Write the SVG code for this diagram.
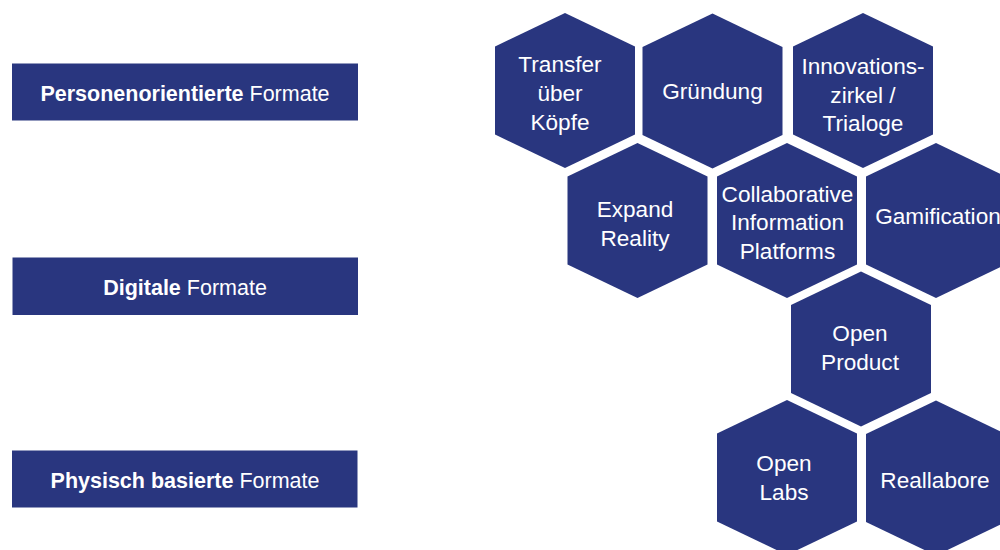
<svg xmlns="http://www.w3.org/2000/svg" xmlns:xlink="http://www.w3.org/1999/xlink" width="1000" height="550" viewBox="0 0 1000 550">
<style>
  .fill { fill: #29367f; }
  .ht { font-family: "Liberation Sans", Arial, sans-serif; font-size: 22.6px; fill: #ffffff; text-anchor: middle; }
  .rt { font-family: "Liberation Sans", Arial, sans-serif; font-size: 21.5px; fill: #ffffff; text-anchor: middle; }
  .b { font-weight: bold; }
</style>
<defs>
  <polygon id="hex" points="0,-77.5 70,-44 70,44 0,77.5 -70,44 -70,-44"/>
</defs>
<rect width="1000" height="550" fill="#ffffff"/>

<g id="cat-personen">
  <rect class="fill" x="12" y="63.5" width="346" height="57"/>
  <text class="rt" x="185" y="100.5"><tspan class="b">Personenorientierte</tspan> Formate</text>
</g>
<g id="cat-digital">
  <rect class="fill" x="12.5" y="257.5" width="345.5" height="57.5"/>
  <text class="rt" x="185" y="295"><tspan class="b">Digitale</tspan> Formate</text>
</g>
<g id="cat-physisch">
  <rect class="fill" x="12" y="450.5" width="345.5" height="57"/>
  <text class="rt" x="185" y="488"><tspan class="b">Physisch basierte</tspan> Formate</text>
</g>

<g id="hex-transfer">
  <use xlink:href="#hex" class="fill" x="565" y="90.5"/>
  <text class="ht" x="560" y="72">Transfer</text>
  <text class="ht" x="560" y="101">über</text>
  <text class="ht" x="560" y="130">Köpfe</text>
</g>
<g id="hex-gruendung">
  <use xlink:href="#hex" class="fill" x="712.5" y="91"/>
  <text class="ht" x="712.5" y="99">Gründung</text>
</g>
<g id="hex-innovation">
  <use xlink:href="#hex" class="fill" x="863" y="90.5"/>
  <text class="ht" x="863" y="74">Innovations-</text>
  <text class="ht" x="863" y="102.5">zirkel /</text>
  <text class="ht" x="863" y="131">Trialoge</text>
</g>
<g id="hex-expand">
  <use xlink:href="#hex" class="fill" x="637.5" y="220.5"/>
  <text class="ht" x="635" y="216.5">Expand</text>
  <text class="ht" x="635" y="245.5">Reality</text>
</g>
<g id="hex-collab">
  <use xlink:href="#hex" class="fill" x="787" y="220.5"/>
  <text class="ht" x="787.5" y="201.5">Collaborative</text>
  <text class="ht" x="787.5" y="230">Information</text>
  <text class="ht" x="787.5" y="258.5">Platforms</text>
</g>
<g id="hex-gamification">
  <use xlink:href="#hex" class="fill" x="936" y="220.5"/>
  <text class="ht" x="938" y="224">Gamification</text>
</g>
<g id="hex-openproduct">
  <use xlink:href="#hex" class="fill" x="861" y="349"/>
  <text class="ht" x="860" y="341">Open</text>
  <text class="ht" x="860" y="370">Product</text>
</g>
<g id="hex-openlabs">
  <use xlink:href="#hex" class="fill" x="787" y="477.5"/>
  <text class="ht" x="784" y="471">Open</text>
  <text class="ht" x="784" y="500">Labs</text>
</g>
<g id="hex-reallabore">
  <use xlink:href="#hex" class="fill" x="936" y="478"/>
  <text class="ht" x="935" y="488">Reallabore</text>
</g>
</svg>
